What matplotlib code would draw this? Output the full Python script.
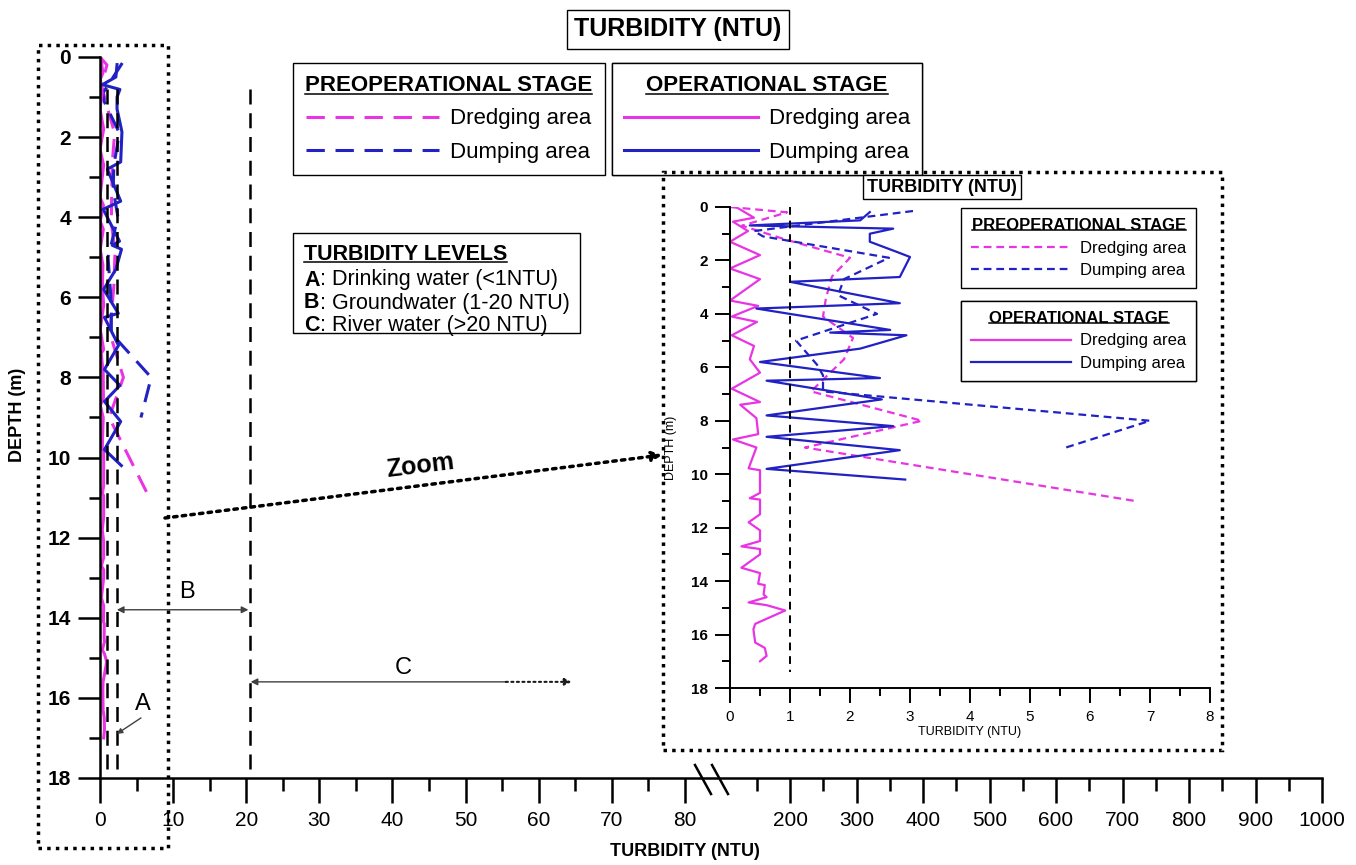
import matplotlib
matplotlib.use('Agg')
import matplotlib.pyplot as plt
import numpy as np
from matplotlib.lines import Line2D
from matplotlib.patches import Rectangle

plt.rcParams['font.family'] = ['Liberation Sans', 'DejaVu Sans']

# preoperational stage (dashed)
pre_dredge_depth = [0.0, 0.2, 0.7, 1.2, 1.9, 2.6, 3.4, 4.1, 4.9, 5.7, 6.9, 8.0, 9.0, 11.0]
pre_dredge_ntu = [0.0, 0.95, 0.2, 0.9, 2.0, 1.7, 1.6, 1.55, 2.05, 1.9, 1.35, 3.2, 1.25, 6.75]

pre_dump_depth = [0.15, 0.9, 1.1, 1.9, 2.7, 3.3, 4.0, 5.0, 5.9, 6.3, 6.9, 8.0, 9.0]
pre_dump_ntu = [3.05, 0.4, 0.55, 2.65, 1.9, 1.8, 2.45, 1.1, 1.45, 1.55, 1.55, 7.0, 5.6]

# operational stage (solid)
op_dredge_depth = [0.0, 0.4, 0.55, 0.9, 1.3, 1.8, 2.3, 2.7, 3.5, 3.7, 4.1, 4.3, 4.8, 5.2,
                   5.7, 6.2, 6.8, 7.3, 7.4, 7.9, 8.5, 8.7, 9.0, 9.78, 9.85, 10.7, 10.9,
                   10.95, 11.5, 11.8, 12.1, 12.5, 12.7, 12.8, 13.0, 13.5, 13.7, 14.1, 14.15,
                   14.5, 14.6, 14.8, 14.9, 15.1, 15.6, 15.8, 16.3, 16.5, 16.8, 17.0]
op_dredge_ntu = [0.1, 0.4, 0.05, 0.3, 0.0, 0.5, 0.0, 0.5, 0.0, 0.47, 0.03, 0.45, 0.03, 0.4,
                 0.33, 0.5, 0.03, 0.5, 0.17, 0.44, 0.47, 0.05, 0.44, 0.31, 0.5, 0.5, 0.33,
                 0.5, 0.5, 0.31, 0.5, 0.5, 0.19, 0.5, 0.5, 0.19, 0.5, 0.47, 0.58,
                 0.56, 0.61, 0.31, 0.61, 0.92, 0.42, 0.39, 0.42, 0.58, 0.61, 0.5]

op_dump_depth = [0.19, 0.5, 0.69, 0.81, 1.0, 1.3, 1.68, 1.87, 2.62, 2.8, 3.6, 3.8, 4.6, 4.7,
                 4.8, 5.3, 5.8, 6.4, 6.5, 7.2, 7.8, 8.2, 8.6, 9.1, 9.8, 10.2]
op_dump_ntu = [2.33, 2.17, 0.33, 2.72, 2.33, 2.33, 2.78, 3.0, 2.83, 1.0, 2.83, 0.44, 2.67, 1.67,
               2.94, 2.17, 0.5, 2.5, 0.61, 2.53, 0.61, 2.72, 0.61, 2.83, 0.61, 2.92]

# turbidity level guide lines (NTU)
level_lines = [1.0, 2.3, 20.5]

x_major = [0, 10, 20, 30, 40, 50, 60, 70, 80, 200, 300, 400, 500, 600, 700, 800, 900, 1000]
x_minor = [5, 15, 25, 35, 45, 55, 65, 75, 150, 250, 350, 450, 550, 650, 750, 850, 950]

MAG = '#e934e4'
BLU = '#2121c4'

W, H = 1356, 865


def fx(px):
    return px / W


def fy(py):
    return 1 - py / H


# broken x axis: linear 0-85, then compressed 100-1000
def fwd(x):
    x = np.asarray(x, float)
    return np.where(x < 100, np.minimum(x, 85.27), 85.27 + (x - 100) * 0.09094)


def inv(u):
    u = np.asarray(u, float)
    return np.where(u <= 85.27, u, 100 + (u - 85.27) / 0.09094)


fig = plt.figure(figsize=(13.56, 8.65), dpi=100)

# ---------------- main panel ----------------
ax = fig.add_axes([fx(100), fy(778), fx(1322) - fx(100), fy(57) - fy(778)])
ax.set_xscale('function', functions=(fwd, inv))
ax.set_xlim(0, 1000)
ax.set_ylim(18, 0)

ax.plot(pre_dredge_ntu, pre_dredge_depth, color=MAG, lw=2.2, dashes=(6, 3.5))
ax.plot(pre_dump_ntu, pre_dump_depth, color=BLU, lw=2.2, dashes=(6, 3.5))
ax.plot(op_dredge_ntu, op_dredge_depth, color=MAG, lw=2.2)
ax.plot(op_dump_ntu, op_dump_depth, color=BLU, lw=2.2)
for xv in level_lines:
    ax.plot([xv, xv], [0.8, 18], color='black', lw=1.8, dashes=(6, 3.5))

for s in ['top', 'right']:
    ax.spines[s].set_visible(False)
for s in ['left', 'bottom']:
    ax.spines[s].set_linewidth(1.8)

ax.set_xticks(x_major)
ax.set_xticklabels([str(v) for v in x_major])
ax.set_xticks(x_minor, minor=True)
ax.set_yticks(np.arange(0, 19, 2))
ax.set_yticks(np.arange(1, 18, 2), minor=True)
ax.tick_params(axis='x', which='major', length=18, width=1.8, labelsize=15, pad=6)
ax.tick_params(axis='x', which='minor', length=9, width=1.8)
ax.tick_params(axis='y', which='major', length=16, width=1.8, labelsize=15, pad=5)
ax.tick_params(axis='y', which='minor', length=8, width=1.8)
plt.setp(ax.get_yticklabels(), fontweight='bold')

fig.text(fx(685), fy(852), 'TURBIDITY (NTU)', ha='center', va='center', fontsize=13, fontweight='bold')
fig.text(fx(18), fy(415), 'DEPTH (m)', ha='center', va='center', rotation=90, fontsize=13, fontweight='bold')
fig.text(fx(678), fy(29), 'TURBIDITY (NTU)', ha='center', va='center', fontsize=18, fontweight='bold',
         bbox=dict(boxstyle='square,pad=0.3', fc='white', ec='black', lw=1.0))

# A / B / C annotations
ax.annotate('', xy=(20.3, 13.8), xytext=(2.3, 13.8),
            arrowprops=dict(arrowstyle='<|-|>', color='0.25', lw=1, mutation_scale=10, shrinkA=0, shrinkB=0))
ax.text(11.9, 13.35, 'B', fontsize=17, ha='center', va='center')
ax.annotate('', xy=(20.6, 15.6), xytext=(55.5, 15.6),
            arrowprops=dict(arrowstyle='-|>', color='0.25', lw=1, mutation_scale=10, shrinkA=0, shrinkB=0))
ax.annotate('', xy=(64.5, 15.6), xytext=(55.5, 15.6),
            arrowprops=dict(arrowstyle='-|>', color='0.1', lw=1.5, ls=':', mutation_scale=10, shrinkA=0, shrinkB=0))
ax.text(41.5, 15.25, 'C', fontsize=17, ha='center', va='center')
ax.annotate('', xy=(2.3, 16.9), xytext=(5.6, 16.5),
            arrowprops=dict(arrowstyle='-|>', color='0.25', lw=1, mutation_scale=8, shrinkA=0, shrinkB=0))
ax.text(5.8, 16.15, 'A', fontsize=17, ha='center', va='center')

# axis break marks
for x0 in [695, 712]:
    fig.add_artist(Line2D([fx(x0), fx(x0 + 16)], [fy(765), fy(794)], color='black', lw=1.8))

# main legends
leg_font = 16
pre_handles = [Line2D([], [], color=MAG, lw=2.2, dashes=(6, 3.5)),
               Line2D([], [], color=BLU, lw=2.2, dashes=(6, 3.5))]
op_handles = [Line2D([], [], color=MAG, lw=2.2), Line2D([], [], color=BLU, lw=2.2)]
labels = ['Dredging area', 'Dumping area']

legs = []
for handles, title, left in [(pre_handles, 'PREOPERATIONAL STAGE', 293), (op_handles, 'OPERATIONAL STAGE', 612)]:
    lg = ax.legend(handles, labels, title=title, loc='upper left', bbox_to_anchor=(fx(left), fy(63)),
                   bbox_transform=fig.transFigure, borderaxespad=0, fontsize=leg_font,
                   title_fontproperties={'weight': 'bold', 'size': leg_font}, handlelength=6,
                   handletextpad=0.5, labelspacing=0.55, borderpad=0.55, fancybox=False,
                   edgecolor='black', framealpha=1)
    lg.get_frame().set_linewidth(1.0)
    ax.add_artist(lg)
    legs.append(lg)

# turbidity levels box
lev_font = 15.5
fig.add_artist(Rectangle((fx(293), fy(333)), fx(580) - fx(293), fy(233) - fy(333),
                         transform=fig.transFigure, fill=False, ec='black', lw=1.0))
lev_title = fig.text(fx(304), fy(254), 'TURBIDITY LEVELS', fontsize=lev_font, fontweight='bold', va='center')
level_rows = [('A', ': Drinking water (<1NTU)'), ('B', ': Groundwater (1-20 NTU)'), ('C', ': River water (>20 NTU)')]
for i, (let, txt) in enumerate(level_rows):
    t1 = fig.text(fx(304), fy(280 + 23 * i), let, fontsize=lev_font, fontweight='bold', va='center')
    ax.annotate(txt, xy=(1, 0), xycoords=t1, va='bottom', ha='left', fontsize=lev_font)

# zoom arrow and dotted frames
ax.annotate('', xy=(fx(662), fy(455)), xytext=(fx(165), fy(518)), xycoords='figure fraction',
            arrowprops=dict(arrowstyle='-|>', color='black', lw=2.5, ls=(0, (1, 1.5)), mutation_scale=14,
                            shrinkA=0, shrinkB=0))
fig.text(fx(420), fy(466), 'Zoom', fontsize=18, fontweight='bold', rotation=7, ha='center', va='center')
for (x0, y0, x1, y1) in [(38, 45, 168, 848), (663, 172, 1222, 750)]:
    fig.add_artist(Rectangle((fx(x0), fy(y1)), fx(x1) - fx(x0), fy(y0) - fy(y1), transform=fig.transFigure,
                             fill=False, ec='black', lw=2.5, ls=(0, (1, 1.5))))

# ---------------- zoomed panel ----------------
ax2 = fig.add_axes([fx(730), fy(688), fx(1210) - fx(730), fy(207) - fy(688)])
ax2.set_xlim(0, 8)
ax2.set_ylim(18, 0)
ax2.plot(pre_dredge_ntu, pre_dredge_depth, color=MAG, lw=1.6, dashes=(3.5, 2.2))
ax2.plot(pre_dump_ntu, pre_dump_depth, color=BLU, lw=1.6, dashes=(3.5, 2.2))
ax2.plot(op_dredge_ntu, op_dredge_depth, color=MAG, lw=1.6)
ax2.plot(op_dump_ntu, op_dump_depth, color=BLU, lw=1.6)
ax2.plot([level_lines[0]] * 2, [0, 17.4], color='black', lw=1.4, dashes=(4, 3))

for s in ['top', 'right']:
    ax2.spines[s].set_visible(False)
for s in ['left', 'bottom']:
    ax2.spines[s].set_linewidth(1.4)
ax2.set_xticks(np.arange(0, 9, 1))
ax2.set_xticks(np.arange(0.5, 8, 1), minor=True)
ax2.set_yticks(np.arange(0, 19, 2))
ax2.set_yticks(np.arange(1, 18, 2), minor=True)
ax2.tick_params(axis='both', which='major', length=11, width=1.4, labelsize=11, pad=5)
ax2.tick_params(axis='both', which='minor', length=6, width=1.4)
plt.setp(ax2.get_yticklabels(), fontweight='bold')
ax2.set_xlabel('TURBIDITY (NTU)', fontsize=9, labelpad=1)
ax2.set_ylabel('DEPTH (m)', fontsize=9, labelpad=2)
ax2.yaxis.set_label_coords(-0.11, 0.5)
fig.text(fx(942), fy(187), 'TURBIDITY (NTU)', ha='center', va='center', fontsize=13, fontweight='bold',
         bbox=dict(boxstyle='square,pad=0.2', fc='white', ec='black', lw=1.0))

in_pre = [Line2D([], [], color=MAG, lw=1.6, dashes=(3.5, 2.2)), Line2D([], [], color=BLU, lw=1.6, dashes=(3.5, 2.2))]
in_op = [Line2D([], [], color=MAG, lw=1.6), Line2D([], [], color=BLU, lw=1.6)]
for handles, title, top in [(in_pre, 'PREOPERATIONAL STAGE', 208), (in_op, 'OPERATIONAL STAGE', 301)]:
    lg = ax2.legend(handles, labels, title=title, loc='upper left', bbox_to_anchor=(fx(961), fy(top)),
                    bbox_transform=fig.transFigure, borderaxespad=0, fontsize=12,
                    title_fontproperties={'weight': 'bold', 'size': 12}, handlelength=6,
                    handletextpad=0.55, labelspacing=0.45, borderpad=0.6, fancybox=False,
                    edgecolor='black', framealpha=1)
    lg.get_frame().set_linewidth(1.0)
    ax2.add_artist(lg)
    legs.append(lg)

# underline the box titles
fig.canvas.draw()
r = fig.canvas.get_renderer()
for t in [lg.get_title() for lg in legs] + [lev_title]:
    bb = t.get_window_extent(r).transformed(fig.transFigure.inverted())
    yy = bb.y0 + 2.5 / H
    fig.add_artist(Line2D([bb.x0, bb.x1], [yy, yy], color='black', lw=1.1))

plt.savefig('out.png', dpi=100)
